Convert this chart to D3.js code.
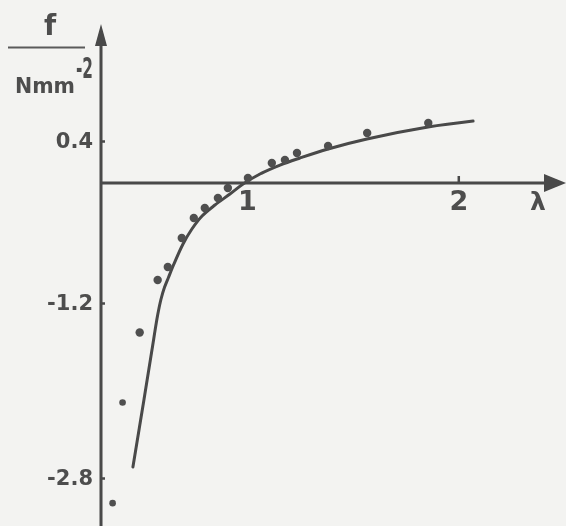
<!DOCTYPE html>
<html>
<head>
<meta charset="utf-8">
<script src="https://cdn.jsdelivr.net/npm/d3@7"></script>
<style>
  html, body { margin: 0; padding: 0; background: #f3f3f1; }
  svg { display: block; }
  text { font-family: "DejaVu Sans", "Liberation Sans", sans-serif; font-weight: bold; fill: #4e4e4e; }
</style>
</head>
<body>
<svg id="chart" width="566" height="526"></svg>
<script>
// Stretch ratio λ and nominal stress f (N mm^-2): measured points
const measuredLambda = [0.365, 0.412, 0.493, 0.578, 0.626, 0.692, 0.749, 0.801, 0.863, 0.910,
                        1.005, 1.118, 1.180, 1.237, 1.384, 1.569, 1.858];
const measuredF      = [-3.03, -2.11, -1.47, -0.97, -0.84, -0.55, -0.35, -0.25, -0.15, -0.05,
                        0.048, 0.19, 0.22, 0.286, 0.352, 0.476, 0.571];

// Smooth theoretical curve drawn through the data
const curveLambda = [0.461, 0.513, 0.551, 0.578, 0.594, 0.610, 0.629, 0.651, 0.698, 0.740,
                     0.788, 0.849, 0.920, 0.982, 1.062, 1.157, 1.251, 1.384, 1.568, 1.857, 2.070];
const curveF      = [-2.699, -2.087, -1.630, -1.310, -1.16, -1.045, -0.945, -0.83, -0.61, -0.46,
                     -0.33, -0.22, -0.11, -0.01, 0.086, 0.171, 0.238, 0.324, 0.419, 0.533, 0.590];

// Axis ticks
const lambdaTicks = [1, 2];
const fTicks = [0.4, -1.2, -2.8];
const lambdaTickLabels = ["1", "2"];
const fTickLabels = ["0.4", "-1.2", "-2.8"];

const W = 566, H = 526;
const svg = d3.select("#chart");
const ink = "#484848";

// Slight softening of the pencil-like strokes
const defs = svg.append("defs");
defs.append("filter").attr("id", "soft")
  .append("feGaussianBlur").attr("stdDeviation", 0.45);
const root = svg.append("g").attr("filter", "url(#soft)");

// Scales: the hand-ruled f axis is not perfectly uniform, so the ticks are pinned piecewise
const x = d3.scaleLinear().domain([0.31, 2.5]).range([101, 564]);
const y = d3.scaleLinear().domain([0.4, 0, -1.2, -2.8]).range([141, 183, 303, 478]);

const x0 = x.range()[0];
const y0 = y(0);

// Horizontal λ axis with arrow
root.append("line")
  .attr("x1", x0).attr("x2", W - 18)
  .attr("y1", y0).attr("y2", y0)
  .attr("stroke", ink).attr("stroke-width", 3);
root.append("path")
  .attr("d", `M${W - 22},${y0 - 9} L${W},${y0} L${W - 22},${y0 + 9} Z`)
  .attr("fill", ink);

// Vertical f axis with arrow
root.append("line")
  .attr("x1", x0).attr("x2", x0)
  .attr("y1", 40).attr("y2", H)
  .attr("stroke", ink).attr("stroke-width", 3);
root.append("path")
  .attr("d", `M${x0 - 6},${46} L${x0},${24} L${x0 + 6},${46} Z`)
  .attr("fill", ink);

// λ axis ticks and labels
const xAxis = d3.axisBottom(x)
  .tickValues(lambdaTicks)
  .tickSize(-7)
  .tickPadding(8)
  .tickFormat((d, i) => lambdaTickLabels[i]);
const gx = root.append("g").attr("transform", `translate(0,${y0})`).call(xAxis);
gx.select(".domain").remove();
gx.selectAll(".tick line").attr("stroke", ink).attr("stroke-width", 2.5)
  .attr("opacity", (d) => d === 1 ? 0 : 1);
gx.selectAll(".tick text").attr("font-size", 27).attr("fill", "#4e4e4e")
  .attr("font-family", "DejaVu Sans, sans-serif").attr("font-weight", "bold");

// f axis ticks and labels
const yAxis = d3.axisLeft(y)
  .tickValues(fTicks)
  .tickSize(-4)
  .tickPadding(8)
  .tickFormat((d, i) => fTickLabels[i]);
const gy = root.append("g").attr("transform", `translate(${x0},0)`).call(yAxis);
gy.select(".domain").remove();
gy.selectAll(".tick line").attr("stroke", ink).attr("stroke-width", 2.5);
gy.selectAll(".tick text").attr("font-size", 21).attr("fill", "#4e4e4e")
  .attr("font-family", "DejaVu Sans, sans-serif").attr("font-weight", "bold");

// Axis titles
root.append("text").attr("x", 538).attr("y", 210)
  .attr("text-anchor", "middle").attr("font-size", 25).text("λ");

root.append("text").attr("x", 50).attr("y", 35)
  .attr("text-anchor", "middle").attr("font-size", 28).text("f");
root.append("line")
  .attr("x1", 8).attr("x2", 85).attr("y1", 47.5).attr("y2", 47.5)
  .attr("stroke", "#5a5a5a").attr("stroke-width", 2);
root.append("text").attr("x", 15).attr("y", 93)
  .attr("font-size", 21).attr("textLength", 60).attr("lengthAdjust", "spacingAndGlyphs")
  .text("Nmm");
root.append("text").attr("x", 76).attr("y", 78)
  .attr("font-size", 28).attr("textLength", 17).attr("lengthAdjust", "spacingAndGlyphs")
  .text("-2");

// Fitted curve
const curvePts = curveLambda.map((l, i) => [l, curveF[i]]);
root.append("path")
  .datum(curvePts)
  .attr("d", d3.line().x(d => x(d[0])).y(d => y(d[1])).curve(d3.curveCatmullRom.alpha(0.5)))
  .attr("fill", "none")
  .attr("stroke", ink)
  .attr("stroke-width", 3)
  .attr("stroke-linecap", "round");

// Measured points
const pts = measuredLambda.map((l, i) => [l, measuredF[i]]);
root.append("g").selectAll("circle")
  .data(pts)
  .join("circle")
  .attr("cx", d => x(d[0]))
  .attr("cy", d => y(d[1]))
  .attr("r", (d) => d[0] < 0.45 ? 3.3 : 4.2)
  .attr("fill", "#505050");
</script>
</body>
</html>
